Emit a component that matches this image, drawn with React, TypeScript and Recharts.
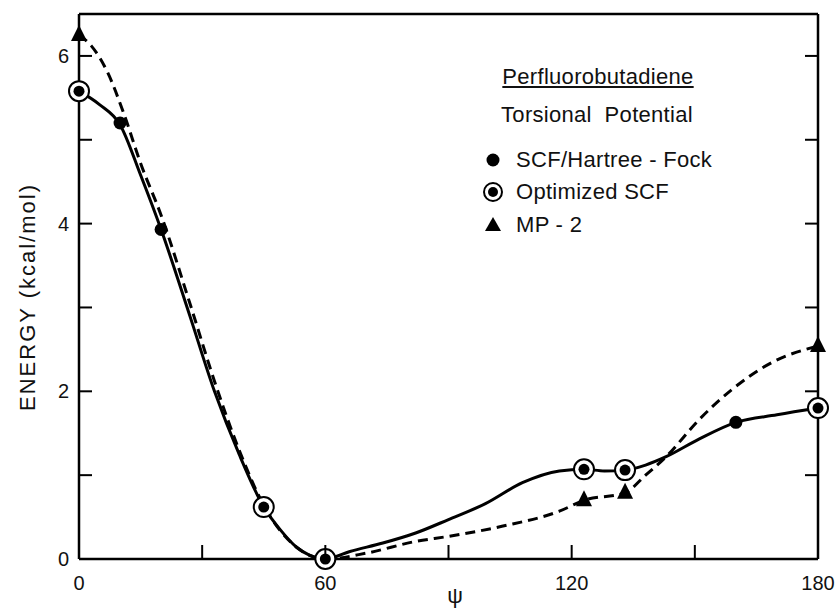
import React from "react";
import { ComposedChart, Line, Scatter, XAxis, YAxis } from "recharts";

// traced smooth curves (torsion angle in degrees, energy in kcal/mol)
const solidAngles = [0, 5, 10, 15, 20, 27, 33, 39, 45, 49, 53, 56, 60, 66, 74, 82, 90, 99, 108, 117, 123, 128, 133, 138, 143, 151, 160, 170, 180];
const solidEnergy = [5.58, 5.42, 5.18, 4.58, 3.93, 2.9, 2.0, 1.25, 0.62, 0.35, 0.14, 0.05, 0, 0.09, 0.19, 0.31, 0.47, 0.66, 0.91, 1.05, 1.07, 1.05, 1.06, 1.12, 1.22, 1.43, 1.63, 1.72, 1.8];

const dashAngles = [0, 3, 7, 11, 15, 20, 27, 33, 39, 45, 53, 60, 70, 82, 90, 103, 117, 123, 133, 138, 143, 151, 159, 169, 180];
const dashEnergy = [6.25, 6.12, 5.8, 5.3, 4.72, 4.1, 3.05, 2.12, 1.3, 0.64, 0.14, 0, 0.07, 0.21, 0.27, 0.39, 0.57, 0.7, 0.79, 1.0, 1.22, 1.66, 2.02, 2.35, 2.54];

// computed points
const hfAngles = [10, 20, 160];
const hfEnergy = [5.2, 3.93, 1.63];
const optAngles = [0, 45, 60, 123, 133, 180];
const optEnergy = [5.58, 0.62, 0, 1.07, 1.06, 1.8];
const mp2Angles = [0, 60, 123, 133, 180];
const mp2Energy = [6.25, 0, 0.7, 0.79, 2.54];

const xTicks = [0, 30, 60, 90, 120, 150, 180];
const xLabels = [0, 60, 120, 180];
const yTicks = [0, 1, 2, 3, 4, 5, 6];
const yLabels = [0, 2, 4, 6];

const toRows = (a: number[], e: number[]) => a.map((v, i) => ({ a: v, e: e[i] }));

const solidData = toRows(solidAngles, solidEnergy);
const dashData = toRows(dashAngles, dashEnergy);
const hfData = toRows(hfAngles, hfEnergy);
const optData = toRows(optAngles, optEnergy);
const mp2Data = toRows(mp2Angles, mp2Energy);

const font = '"Liberation Sans", Arial, Helvetica, sans-serif';

function BottomTick(props: any) {
  const { x, y, payload } = props;
  return (
    <g>
      <line x1={x} y1={y} x2={x} y2={y - 14} stroke="#000" strokeWidth={2} />
      {xLabels.includes(payload.value) && (
        <text x={x} y={y + 31} textAnchor="middle" fontSize={20} fontFamily={font} fill="#111">
          {payload.value}
        </text>
      )}
    </g>
  );
}

function TopTick(props: any) {
  const { x, y } = props;
  return <line x1={x} y1={y} x2={x} y2={y + 13} stroke="#000" strokeWidth={2} />;
}

function LeftTick(props: any) {
  const { x, y, payload } = props;
  return (
    <g>
      <line x1={x} y1={y} x2={x + 13} y2={y} stroke="#000" strokeWidth={2} />
      {yLabels.includes(payload.value) && (
        <text x={x - 10} y={y + 7} textAnchor="end" fontSize={20} fontFamily={font} fill="#111">
          {payload.value}
        </text>
      )}
    </g>
  );
}

function RightTick(props: any) {
  const { x, y } = props;
  return <line x1={x} y1={y} x2={x - 13} y2={y} stroke="#000" strokeWidth={2} />;
}

const FilledDot = (p: any) => <circle cx={p.cx} cy={p.cy} r={6.5} fill="#000" />;

const RingDot = (p: any) => (
  <g>
    <circle cx={p.cx} cy={p.cy} r={10} fill="#fff" stroke="#000" strokeWidth={2} />
    <circle cx={p.cx} cy={p.cy} r={5.5} fill="#000" />
  </g>
);

const Tri = (p: any) => (
  <polygon
    points={`${p.cx},${p.cy - 10} ${p.cx - 8},${p.cy + 6} ${p.cx + 8},${p.cy + 6}`}
    fill="#000"
  />
);

const txt: React.CSSProperties = {
  position: "absolute",
  fontFamily: font,
  color: "#111",
  whiteSpace: "pre",
  lineHeight: 1,
};

const legendText: React.CSSProperties = { ...txt, fontSize: 22, letterSpacing: 0.3 };

export default function App() {
  return (
    <div style={{ position: "absolute", left: 0, top: 0, width: 837, height: 612, background: "#fff" }}>
      <ComposedChart width={837} height={612} margin={{ top: 0, right: 0, bottom: 0, left: 0 }}>
        <XAxis
          xAxisId="main"
          dataKey="a"
          type="number"
          domain={[0, 180]}
          ticks={xTicks}
          height={53}
          tickSize={0}
          tickMargin={0}
          tickLine={false}
          axisLine={{ stroke: "#000", strokeWidth: 2.5 }}
          tick={<BottomTick />}
          interval={0}
        />
        <XAxis
          xAxisId="top"
          orientation="top"
          type="number"
          domain={[0, 180]}
          ticks={xTicks}
          height={14}
          tickSize={0}
          tickMargin={0}
          tickLine={false}
          axisLine={{ stroke: "#000", strokeWidth: 2.5 }}
          tick={<TopTick />}
          interval={0}
          allowDataOverflow
        />
        <YAxis
          yAxisId="main"
          type="number"
          domain={[0, 6.5]}
          ticks={yTicks}
          width={79}
          tickSize={0}
          tickMargin={0}
          tickLine={false}
          axisLine={{ stroke: "#000", strokeWidth: 2.5 }}
          tick={<LeftTick />}
          interval={0}
        />
        <YAxis
          yAxisId="right"
          orientation="right"
          type="number"
          domain={[0, 6.5]}
          ticks={yTicks}
          width={19}
          tickSize={0}
          tickMargin={0}
          tickLine={false}
          axisLine={{ stroke: "#000", strokeWidth: 2.5 }}
          tick={<RightTick />}
          interval={0}
          allowDataOverflow
        />
        <Line
          xAxisId="main"
          yAxisId="main"
          data={dashData}
          dataKey="e"
          type="monotone"
          stroke="#000"
          strokeWidth={3}
          strokeDasharray="10 6"
          dot={false}
          activeDot={false}
          isAnimationActive={false}
        />
        <Line
          xAxisId="main"
          yAxisId="main"
          data={solidData}
          dataKey="e"
          type="monotone"
          stroke="#000"
          strokeWidth={3}
          dot={false}
          activeDot={false}
          isAnimationActive={false}
        />
        <Scatter xAxisId="main" yAxisId="main" data={mp2Data} dataKey="e" shape={Tri} isAnimationActive={false} />
        <Scatter xAxisId="main" yAxisId="main" data={hfData} dataKey="e" shape={FilledDot} isAnimationActive={false} />
        <Scatter xAxisId="main" yAxisId="main" data={optData} dataKey="e" shape={RingDot} isAnimationActive={false} />
      </ComposedChart>

      <div style={{ ...txt, left: 28, top: 297, fontSize: 22, letterSpacing: 2, transform: "translate(-50%, -50%) rotate(-90deg)" }}>
        ENERGY (kcal/mol)
      </div>
      <div style={{ ...txt, left: 455, top: 596, fontSize: 22, transform: "translate(-50%, -50%)" }}>ψ</div>

      <div style={{ ...legendText, left: 598, top: 77, textDecoration: "underline", transform: "translate(-50%, -50%)" }}>
        Perfluorobutadiene
      </div>
      <div style={{ ...legendText, left: 597, top: 115, transform: "translate(-50%, -50%)" }}>
        Torsional  Potential
      </div>
      <div style={{ ...legendText, left: 516, top: 160, transform: "translateY(-50%)" }}>SCF/Hartree - Fock</div>
      <div style={{ ...legendText, left: 516, top: 192, transform: "translateY(-50%)" }}>Optimized SCF</div>
      <div style={{ ...legendText, left: 516, top: 225, transform: "translateY(-50%)" }}>MP - 2</div>
      <svg style={{ position: "absolute", left: 480, top: 145 }} width={26} height={95}>
        <circle cx={13} cy={15} r={6.5} fill="#000" />
        <circle cx={13} cy={47} r={9} fill="#fff" stroke="#000" strokeWidth={2} />
        <circle cx={13} cy={47} r={5} fill="#000" />
        <polygon points="13,72 5,86 21,86" fill="#000" />
      </svg>
    </div>
  );
}
